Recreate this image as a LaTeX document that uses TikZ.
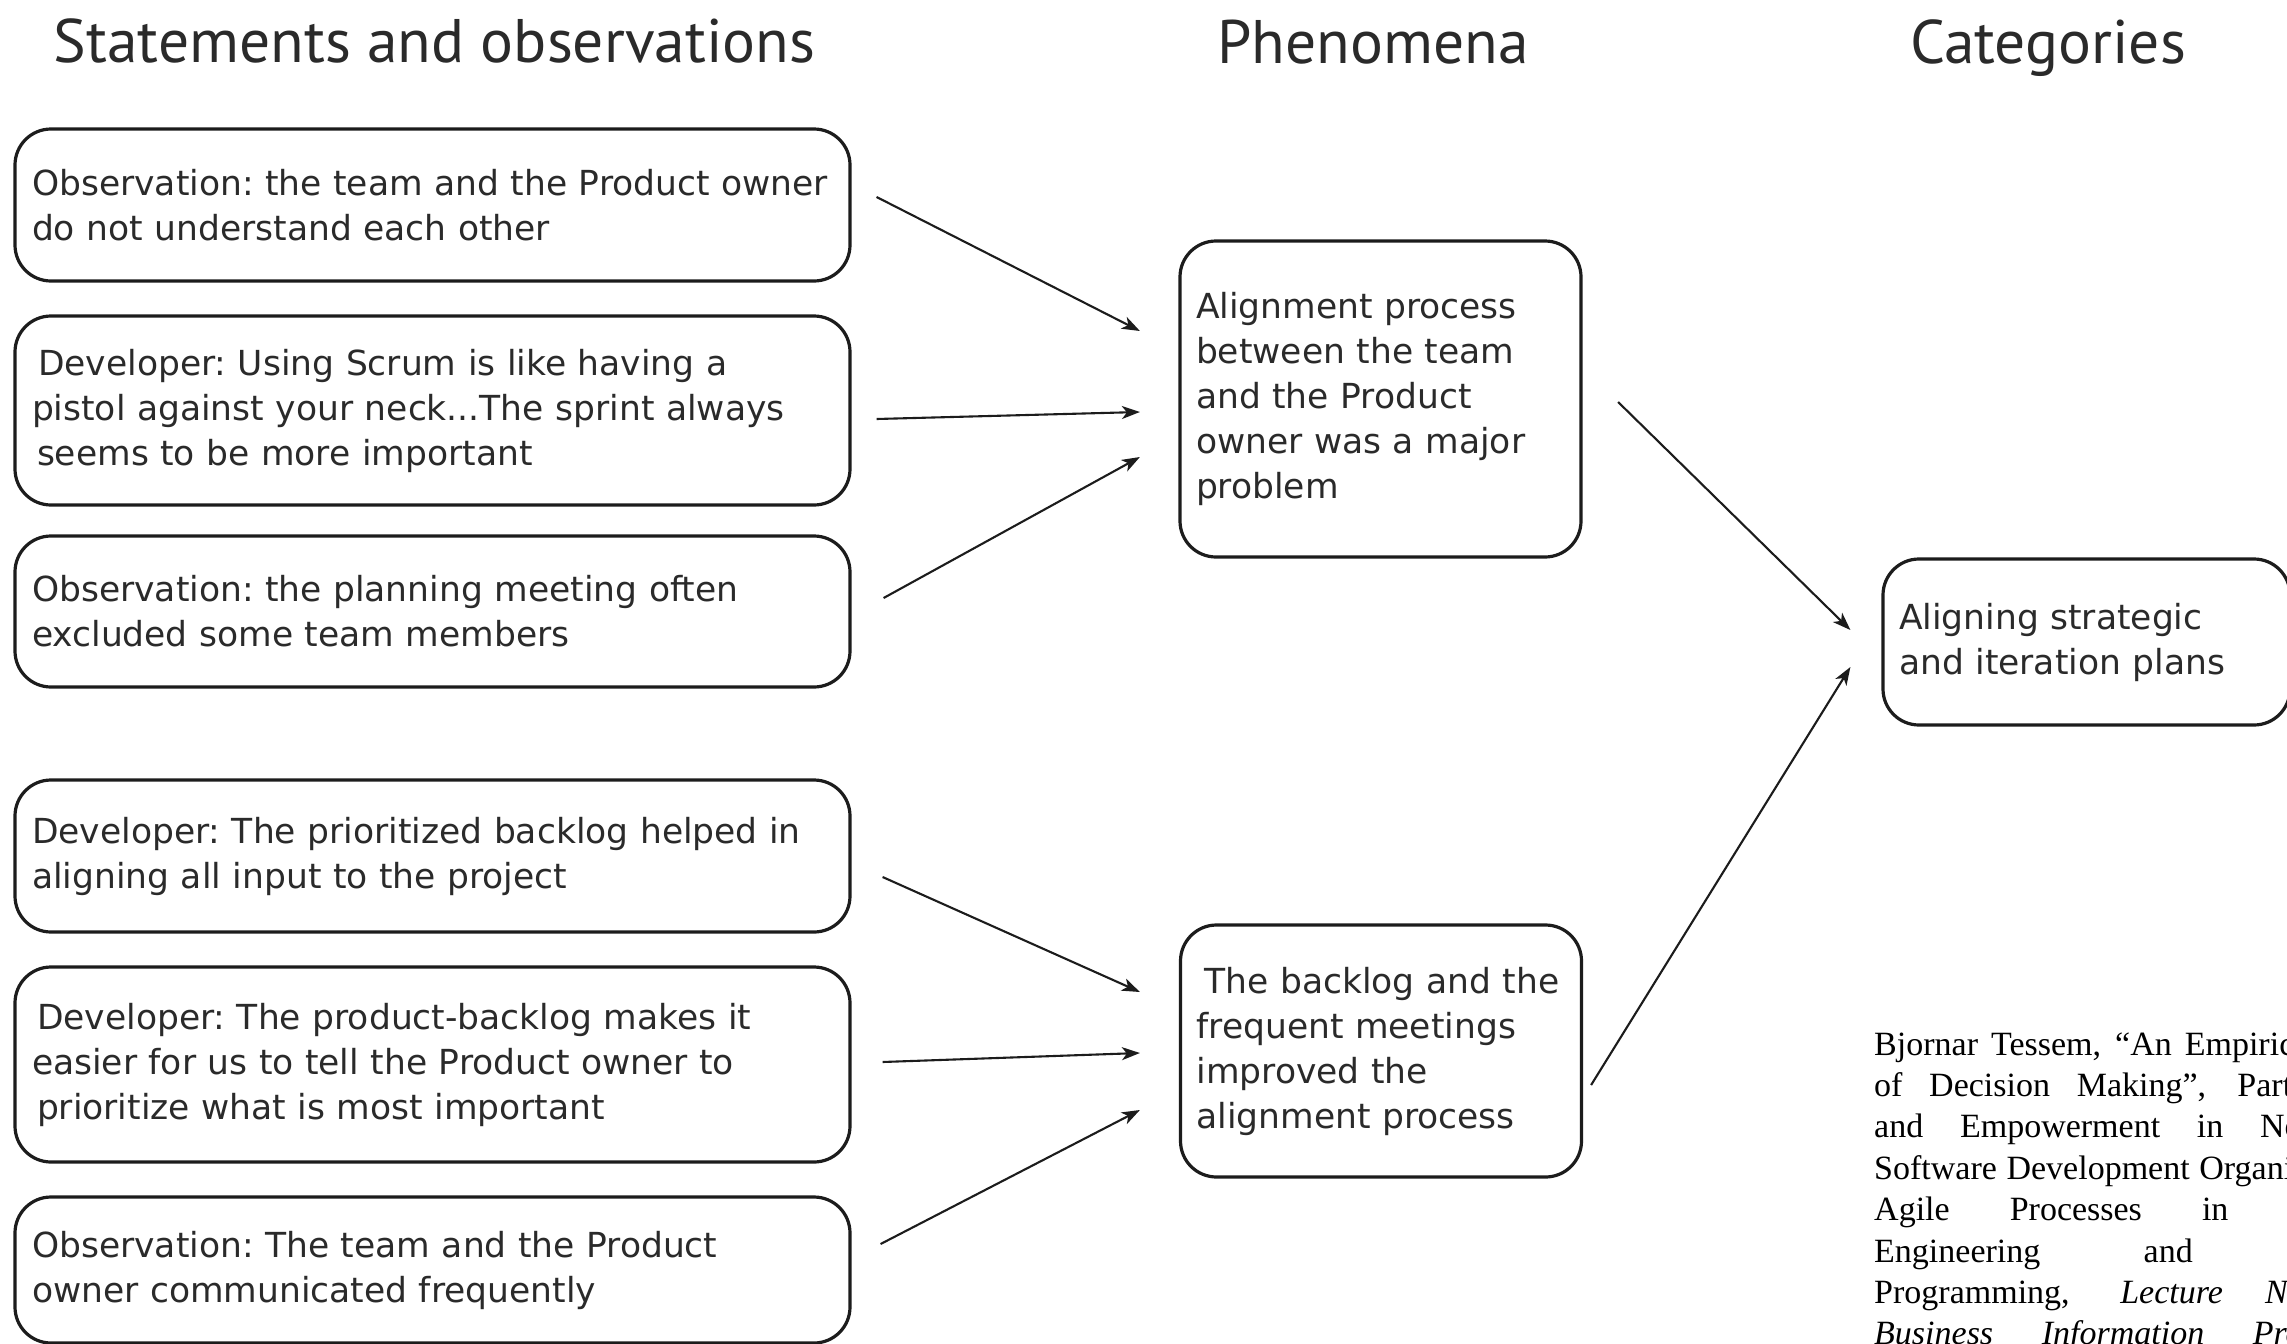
\documentclass[tikz,border=0pt]{standalone}
\usepackage{fontspec}
\usetikzlibrary{arrows.meta,calc}
\newfontfamily\boxfont{DejaVu Sans}
\newfontfamily\titlefont{PT Sans}
\newfontfamily\citefont{Liberation Serif}
\definecolor{linec}{HTML}{1C1C1C}
\definecolor{textc}{HTML}{2A2A2A}
\tikzset{
  box/.style={draw=linec, line width=3.2pt, rounded corners=36pt, inner xsep=17pt, inner ysep=0pt,
    align=left, text=textc, font={\boxfont\fontsize{34.5}{45}\selectfont\frenchspacing}},
  leftbox/.style={box, text width=801pt, minimum width=835pt},
  midbox/.style={box, text width=369pt, minimum width=401pt, inner xsep=16pt},
  catbox/.style={box, text width=375pt, minimum width=407pt, inner xsep=16pt},
  title/.style={anchor=base, text=textc, font={\titlefont\fontsize{61.5}{70}\selectfont}},
  arr/.style={draw=linec, line width=2.1pt, -{Stealth[length=18pt,width=13pt,inset=5pt]}},
}
\begin{document}
\begin{tikzpicture}[x=1pt,y=-1pt]
\useasboundingbox (0,0) rectangle (2287,1344);
\clip (0,0) rectangle (2287,1344);
\fill[white] (0,0) rectangle (2287,1344);

% titles
\node[title] (t1) at (434.5,62) {Statements and observations};
\node[title] (t2) at (1373,63) {Phenomena};
\node[title] (t3) at (2048,63) {Categories};

% left column
\node[leftbox, minimum height=152pt] (b1) at (432.5,205)
  {Observation: the team and the Product owner\\do not understand each other};
\node[leftbox, minimum height=189pt] (b2) at (432.5,410.5)
  {\hspace*{6pt}Developer: Using Scrum is like having a\\pistol against your neck...The sprint always\\\hspace*{5pt}seems to be more important};
\node[leftbox, minimum height=151pt] (b3) at (432.5,611.5)
  {Observation: the planning meeting often\\excluded some team members};
\node[leftbox, minimum height=152pt] (b4) at (432.5,856)
  {Developer: The prioritized backlog helped in\\aligning all input to the project};
\node[leftbox, minimum height=195pt] (b5) at (432.5,1064.5)
  {\hspace*{5pt}Developer: The product-backlog makes it\\easier for us to tell the Product owner to\\\hspace*{5pt}prioritize what is most important};
\node[leftbox, minimum height=146pt] (b6) at (432.5,1270)
  {Observation: The team and the Product\\owner communicated frequently};

% middle column
\node[midbox, minimum height=316pt] (pa) at (1380.5,399)
  {Alignment process\\between the team\\and the Product\\owner was a major\\problem};
\node[midbox, minimum height=252pt] (pb) at (1381,1051)
  {\hspace*{8pt}The backlog and the\\frequent meetings\\improved the\\alignment process};

% category
\node[catbox, minimum height=166pt] (rc) at (2086.5,642)
  {Aligning strategic\\and iteration plans};

% arrows
\draw[arr] ($(b1.east)+(25,-8)$) -- ($(pa.west)+(-38.5,-68)$);
\draw[arr] ($(b2.east)+(25,8.5)$) -- ($(pa.west)+(-38.5,13)$);
\draw[arr] ($(b3.east)+(32,-13.5)$) -- ($(pa.west)+(-38.5,58)$);
\draw[arr] ($(b4.east)+(31,21)$) -- ($(pb.west)+(-39,-59)$);
\draw[arr] ($(b5.east)+(31,-2.5)$) -- ($(pb.west)+(-39,2)$);
\draw[arr] ($(b6.east)+(29,-26)$) -- ($(pb.west)+(-39,59)$);
\draw[arr] ($(pa.east)+(35.5,3)$) -- ($(rc.west)+(-31,-12)$);
\draw[arr] ($(pb.east)+(8,34)$) -- ($(rc.west)+(-31,25)$);

% citation
\node[anchor=base west, inner sep=0pt] (cite) at (1874,1055)
  {\parbox[t]{537pt}{\citefont\fontsize{34}{41.4}\selectfont\tolerance=10000\hyphenpenalty=10000\parfillskip=0pt
  Bjornar Tessem, “An Empirical Study\linebreak
  of Decision Making”, Participation\linebreak
  and Empowerment in Norwegian\linebreak
  Software Development Organisations”,\linebreak
  Agile Processes in Software\linebreak
  Engineering and Extreme\linebreak
  Programming, \textit{Lecture Notes in}\linebreak
  \textit{Business Information Processing},}};
\end{tikzpicture}
\end{document}
